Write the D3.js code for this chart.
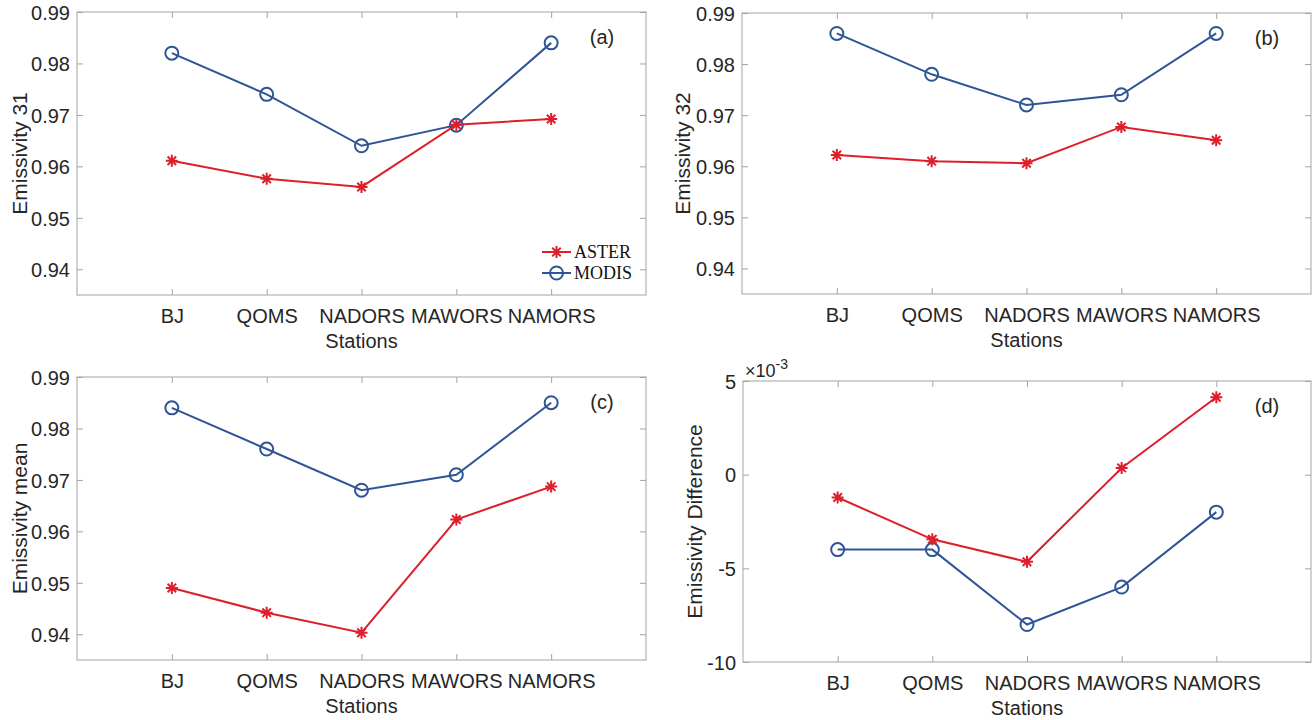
<!DOCTYPE html>
<html>
<head>
<meta charset="utf-8">
<script src="https://cdn.jsdelivr.net/npm/d3@7/dist/d3.min.js"></script>
<style>
  html, body { margin: 0; padding: 0; background: #ffffff; }
  svg { display: block; }
  .tick text { font-family: "Liberation Sans", Arial, Helvetica, sans-serif; fill: #262626; }
</style>
</head>
<body>
<svg id="chart" width="1316" height="720"></svg>
<script>
// Station names along the x axis
const stations = ["BJ", "QOMS", "NADORS", "MAWORS", "NAMORS"];

// Band 31 emissivity
const asterE31 = [0.9611, 0.9576, 0.9560, 0.9681, 0.9692];
const modisE31 = [0.982, 0.974, 0.964, 0.968, 0.984];

// Band 32 emissivity
const asterE32 = [0.9622, 0.9610, 0.9606, 0.9677, 0.9651];
const modisE32 = [0.986, 0.978, 0.972, 0.974, 0.986];

// Mean emissivity
const asterMean = [0.9490, 0.9442, 0.9403, 0.9623, 0.9687];
const modisMean = [0.984, 0.976, 0.968, 0.971, 0.985];

// Emissivity difference (band 31 - band 32)
const asterDiff = [-0.00122, -0.00345, -0.00465, 0.00036, 0.00413];
const modisDiff = [-0.004, -0.004, -0.008, -0.006, -0.002];

// Axis tick values
const emisTicks = [0.94, 0.95, 0.96, 0.97, 0.98, 0.99];
const diffTicks = [-0.01, -0.005, 0, 0.005];

const RED = "#dd1f2b";
const BLUE = "#305597";
const AXIS = "#a3a3a3";
const TEXT = "#262626";
const SANS = "'Liberation Sans', Arial, Helvetica, sans-serif";
const SERIF = "'Liberation Serif', 'Times New Roman', Times, serif";

const panels = [
  { id: "a", box: [77, 12, 646, 295], domain: [0.935, 0.99], ticks: emisTicks, fmt: d3.format(".2f"),
    ylabel: "Emissivity 31", ylabelX: 27, aster: asterE31, modis: modisE31, legend: true },
  { id: "b", box: [742, 13, 1311, 294], domain: [0.935, 0.99], ticks: emisTicks, fmt: d3.format(".2f"),
    ylabel: "Emissivity 32", ylabelX: 690, aster: asterE32, modis: modisE32 },
  { id: "c", box: [77, 377, 646, 660], domain: [0.935, 0.99], ticks: emisTicks, fmt: d3.format(".2f"),
    ylabel: "Emissivity mean", ylabelX: 27, aster: asterMean, modis: modisMean },
  { id: "d", box: [743, 381, 1311, 662], domain: [-0.01, 0.005], ticks: diffTicks, fmt: d => String(Math.round(d * 1000)),
    ylabel: "Emissivity Difference", ylabelX: 702, aster: asterDiff, modis: modisDiff, exponent: true }
];

const svg = d3.select("#chart");

// MATLAB-style '*' marker: plus and cross overlaid
function asteriskPath(s) {
  const d = s * 0.7071;
  return `M${-s},0L${s},0M0,${-s}L0,${s}M${-d},${-d}L${d},${d}M${-d},${d}L${d},${-d}`;
}

panels.forEach(p => {
  const [x0, y0, x1, y1] = p.box;
  const x = d3.scaleLinear().domain([0, 6]).range([x0, x1]);
  const y = d3.scaleLinear().domain(p.domain).range([y1, y0]);
  const g = svg.append("g");

  const idx = stations.map((s, i) => i + 1);

  // Inward ticks on all four sides
  const styleAxis = sel => {
    sel.select(".domain").remove();
    sel.selectAll(".tick line").attr("stroke", AXIS).attr("stroke-width", 1);
  };
  g.append("g").attr("transform", `translate(0,${y1})`)
    .call(d3.axisBottom(x).tickValues(idx).tickFormat(i => stations[i - 1]).tickSize(-6).tickPadding(28))
    .call(styleAxis)
    .selectAll("text").attr("font-size", 20).attr("dy", 0);
  g.append("g").attr("transform", `translate(0,${y0})`)
    .call(d3.axisTop(x).tickValues(idx).tickFormat("").tickSize(-6))
    .call(styleAxis);
  g.append("g").attr("transform", `translate(${x0},0)`)
    .call(d3.axisLeft(y).tickValues(p.ticks).tickFormat(p.fmt).tickSize(-6).tickPadding(7))
    .call(styleAxis)
    .selectAll("text").attr("font-size", 20).attr("dy", "0.36em");
  g.append("g").attr("transform", `translate(${x1},0)`)
    .call(d3.axisRight(y).tickValues(p.ticks).tickFormat("").tickSize(-6))
    .call(styleAxis);

  // Box
  g.append("rect").attr("x", x0).attr("y", y0).attr("width", x1 - x0).attr("height", y1 - y0)
    .attr("fill", "none").attr("stroke", AXIS).attr("stroke-width", 1);

  // Axis titles
  g.append("text").attr("x", (x0 + x1) / 2).attr("y", y1 + 53)
    .attr("text-anchor", "middle").attr("font-family", SANS).attr("font-size", 20).attr("fill", TEXT)
    .text("Stations");
  g.append("text")
    .attr("transform", `translate(${p.ylabelX},${(y0 + y1) / 2}) rotate(-90)`)
    .attr("text-anchor", "middle").attr("font-family", SANS).attr("font-size", 21).attr("fill", TEXT)
    .text(p.ylabel);

  // Panel letter
  g.append("text").attr("x", x1 - 44).attr("y", y0 + 32)
    .attr("text-anchor", "middle").attr("font-family", SANS).attr("font-size", 20).attr("fill", TEXT)
    .text(`(${p.id})`);

  if (p.exponent) {
    const t = g.append("text").attr("x", x0 + 2).attr("y", y0 - 4)
      .attr("font-family", SANS).attr("font-size", 18).attr("fill", TEXT);
    t.append("tspan").text("\u00d710");
    t.append("tspan").attr("font-size", 14).attr("dy", -8).text("-3");
  }

  const line = d3.line().x((d, i) => x(i + 1)).y(d => y(d));

  // MODIS series
  g.append("path").datum(p.modis).attr("d", line)
    .attr("fill", "none").attr("stroke", BLUE).attr("stroke-width", 2);
  g.selectAll(".modis-pt").data(p.modis).enter().append("circle")
    .attr("cx", (d, i) => x(i + 1)).attr("cy", d => y(d)).attr("r", 6.5)
    .attr("fill", "none").attr("stroke", BLUE).attr("stroke-width", 2);

  // ASTER series
  g.append("path").datum(p.aster).attr("d", line)
    .attr("fill", "none").attr("stroke", RED).attr("stroke-width", 2);
  g.selectAll(".aster-pt").data(p.aster).enter().append("path")
    .attr("transform", (d, i) => `translate(${x(i + 1)},${y(d)})`)
    .attr("d", asteriskPath(6))
    .attr("fill", "none").attr("stroke", RED).attr("stroke-width", 2);

  if (p.legend) {
    const lx = 542, lw = 29;
    const items = [
      { name: "ASTER", color: RED, y: 252, marker: "star" },
      { name: "MODIS", color: BLUE, y: 273, marker: "circle" }
    ];
    items.forEach(it => {
      g.append("line").attr("x1", lx).attr("x2", lx + lw).attr("y1", it.y).attr("y2", it.y)
        .attr("stroke", it.color).attr("stroke-width", 2);
      if (it.marker === "star") {
        g.append("path").attr("transform", `translate(${lx + lw / 2},${it.y})`)
          .attr("d", asteriskPath(6)).attr("fill", "none").attr("stroke", it.color).attr("stroke-width", 2);
      } else {
        g.append("circle").attr("cx", lx + lw / 2).attr("cy", it.y).attr("r", 6.5)
          .attr("fill", "none").attr("stroke", it.color).attr("stroke-width", 2);
      }
      g.append("text").attr("x", lx + lw + 3).attr("y", it.y + 6)
        .attr("font-family", SERIF).attr("font-size", 18).attr("fill", "#111")
        .text(it.name);
    });
  }
});
</script>
</body>
</html>
